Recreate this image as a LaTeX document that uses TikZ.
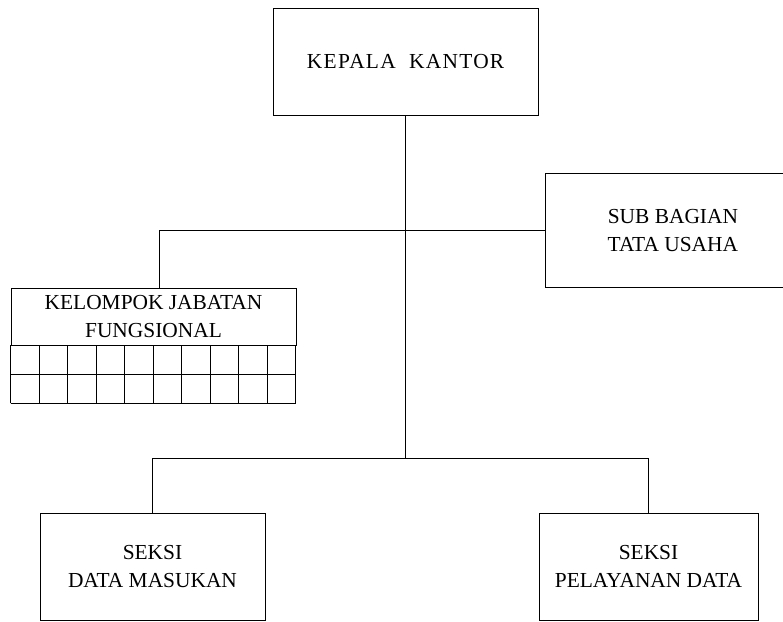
\documentclass[tikz,border=0pt]{standalone}
\usepackage{fontspec}
\setmainfont{Liberation Serif}
\usetikzlibrary{positioning}

\tikzset{
  unit/.style={draw, line width=0.8pt, align=center, inner sep=0pt,
    font=\fontsize{20.3}{26}\selectfont},
}

\begin{document}
\begin{tikzpicture}[line width=0.8pt]
\useasboundingbox (0,0) rectangle (26.1,-20.733);

\node[unit, minimum width=8.83cm, minimum height=3.57cm] (kepala) at (13.52,-2.05)
  {\addfontfeature{LetterSpace=6}KEPALA~~KANTOR};
%Kepala

\node[unit, minimum width=8.53cm, minimum height=3.77cm] (subbag) at (22.43,-7.68) {SUB BAGIAN\\TATA USAHA};
%Sub bagian (runs off the page)

\node[unit, minimum width=9.5cm, minimum height=1.9cm] (kelompok) at (5.117,-10.55) {KELOMPOK JABATAN\\FUNGSIONAL};
\begin{scope}[shift={(kelompok.south west)}]
\draw (0,0) grid[xstep=0.95, ystep=0.96665] (9.5,-1.9333);
\end{scope}
%Kelompok + grid

\node[unit, minimum width=7.5cm, minimum height=3.567cm] (data) at (5.083,-18.883) {SEKSI\\DATA MASUKAN};
\node[unit, minimum width=7.3cm, minimum height=3.567cm] (layanan) at (21.617,-18.883) {SEKSI\\PELAYANAN DATA};
%Seksi

\coordinate (midbar) at (kepala.south |- 0,-7.667);
\coordinate (lowbar) at (kepala.south |- 0,-15.267);
\draw (kepala.south) -- (lowbar);
\draw (midbar) -- (midbar -| subbag.west);
\draw (midbar) -| ([xshift=0.2cm]kelompok.north);
\draw (lowbar) -| (data.north);
\draw (lowbar) -| (layanan.north);
\end{tikzpicture}
\end{document}
